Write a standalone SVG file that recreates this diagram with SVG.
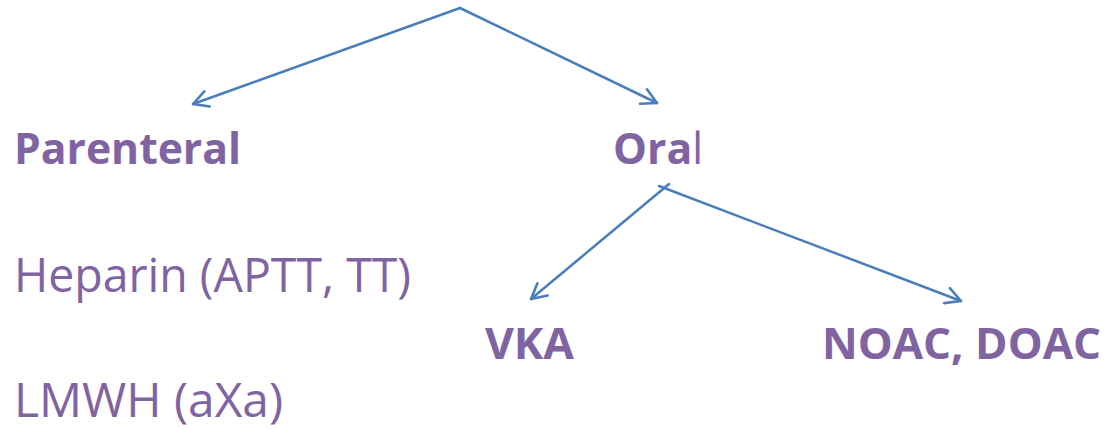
<svg xmlns="http://www.w3.org/2000/svg" width="1109" height="429" viewBox="0 0 1109 429">
  <style>
    .lbl { fill: #8064A2; font-family: "Open Sans", "Liberation Sans", sans-serif; }
    .b { font-weight: bold; font-size: 43px; }
    .r { font-weight: normal; font-size: 48px; }
    .edge { stroke: #4A7EBB; stroke-width: 2.5; fill: none; stroke-linecap: round; }
  </style>
  <defs>
    <marker id="open-arrow" markerUnits="userSpaceOnUse" markerWidth="24" markerHeight="24" viewBox="-20 -12 24 24" refX="0" refY="0" orient="auto">
      <path d="M-15,-8 L0,0 L-15,8" stroke="#4A7EBB" stroke-width="2.6" fill="none" stroke-linecap="round" stroke-linejoin="round"/>
    </marker>
  </defs>

  <g id="connectors">
    <line class="edge" x1="460" y1="8" x2="193" y2="104" marker-end="url(#open-arrow)"/>
    <line class="edge" x1="460" y1="8" x2="657" y2="103" marker-end="url(#open-arrow)"/>
    <line class="edge" x1="669" y1="184" x2="531" y2="299" marker-end="url(#open-arrow)"/>
    <line class="edge" x1="659" y1="186" x2="961" y2="301" marker-end="url(#open-arrow)"/>
  </g>

  <g id="node-parenteral">
    <text class="lbl b" x="14" y="164" textLength="227" lengthAdjust="spacingAndGlyphs">Parenteral</text>
  </g>
  <g id="node-oral">
    <text class="lbl b" x="613" y="164" textLength="90" lengthAdjust="spacingAndGlyphs">Ora<tspan font-weight="normal">l</tspan></text>
  </g>
  <g id="node-heparin">
    <text class="lbl r" x="14" y="292" textLength="397" lengthAdjust="spacingAndGlyphs">Heparin (APTT, TT)</text>
  </g>
  <g id="node-lmwh">
    <text class="lbl r" x="14" y="417" font-size="46" textLength="269" lengthAdjust="spacingAndGlyphs">LMWH (aXa)</text>
  </g>
  <g id="node-vka">
    <text class="lbl b" x="485" y="359" textLength="89" lengthAdjust="spacingAndGlyphs">VKA</text>
  </g>
  <g id="node-noac">
    <text class="lbl b" x="822" y="359" textLength="279" lengthAdjust="spacingAndGlyphs">NOAC, DOAC</text>
  </g>
</svg>
